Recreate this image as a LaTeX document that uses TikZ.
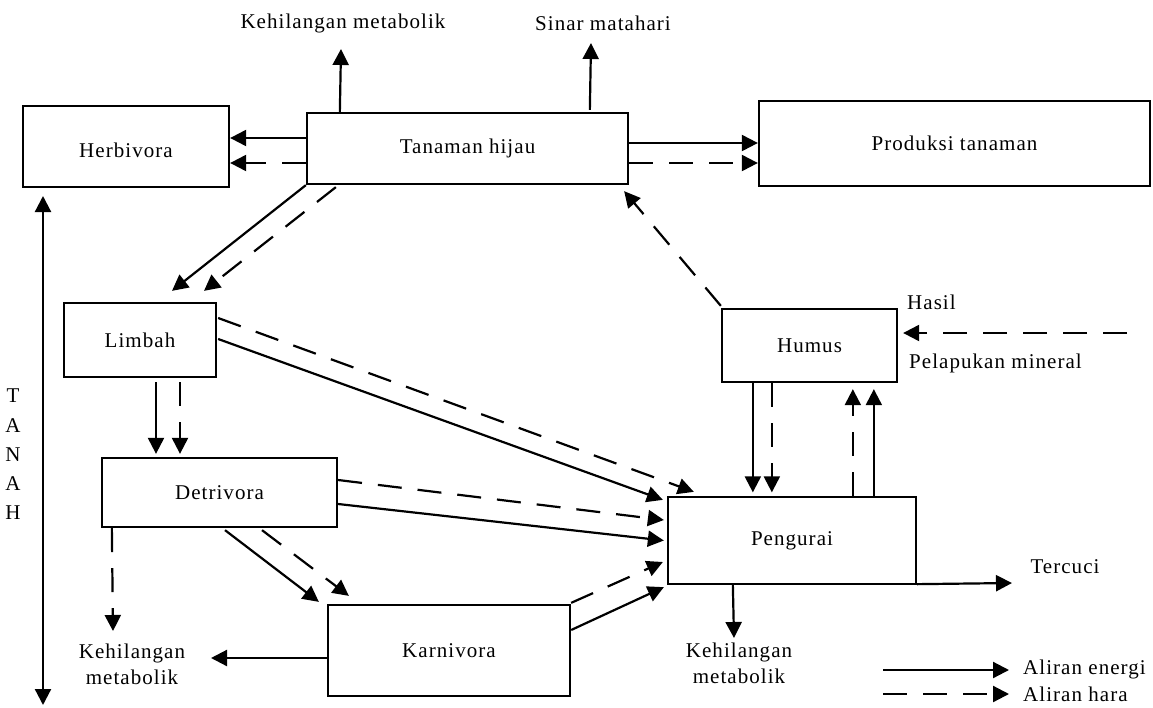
\documentclass[tikz,border=0pt]{standalone}
\usepackage{fontspec}
\setmainfont{Liberation Serif}[LetterSpace=5]
\usetikzlibrary{arrows.meta,calc}
\begin{document}
\begin{tikzpicture}[x=1pt,y=-1pt,
  box/.style={draw, line width=2.3pt, inner sep=0pt, font=\fontsize{21}{25}\selectfont},
  lbl/.style={inner sep=0pt, font=\fontsize{21}{26}\selectfont, align=center},
  en/.style={line width=2.2pt, -{Triangle[length=16pt,width=16pt]}},
  hr/.style={en, dash pattern=on 24pt off 16pt}]
\useasboundingbox (0,0) rectangle (1153,707);
\fill[white] (0,0) rectangle (1153,707);

% boxes
\node[box, minimum width=206pt, minimum height=81pt, text height=22pt] (herb) at (126,146.5) {Herbivora};
\node[box, minimum width=321pt, minimum height=71pt] (tan) at (467.5,148.5) {Tanaman hijau};
\node[box, minimum width=391pt, minimum height=85pt] (prod) at (954.5,143.5) {Produksi tanaman};
\node[box, minimum width=152pt, minimum height=74pt] (limb) at (140,340) {Limbah};
\node[box, minimum width=235pt, minimum height=69pt] (detr) at (219.5,492.5) {Detrivora};
\node[box, minimum width=242pt, minimum height=91pt] (karn) at (449,650.5) {Karnivora};
\node[box, minimum width=248pt, minimum height=87pt] (peng) at (792,540.5) {Pengurai};
\node[box, minimum width=175pt, minimum height=73pt] (hum) at (809.5,345.5) {Humus};

% labels
\node[lbl] (kmtop) at (343,23) {Kehilangan metabolik};
\node[lbl] (sinar) at (603,23) {Sinar matahari};
\node[lbl, anchor=west] (hasil) at (907,302) {Hasil};
\node[lbl, anchor=west] (pelap) at (909,363) {Pelapukan mineral};
\node[lbl] (tercuci) at (1065,567) {Tercuci};
\node[lbl] (kmbot) at (739,663) {Kehilangan\\metabolik};
\node[lbl] (kmleft) at (132,664) {Kehilangan\\metabolik};
\node[lbl, font=\fontsize{21}{29.3}\selectfont] (tanah) at (13,454.5) {T\\A\\N\\A\\H};
\node[lbl, anchor=west] (le) at (1023,669) {Aliran energi};
\node[lbl, anchor=west] (lh) at (1023,694) {Aliran hara};

% free ends
\coordinate (kmtopE) at (341,49);
\coordinate (sinarE) at (591,43);
\coordinate (hasilS) at (1127,333);
\coordinate (kmleftE) at (113,631);
\coordinate (kmleftW) at (211,658);
\coordinate (tercE) at (1012,583);
\coordinate (kmbotE) at (734,638);
\coordinate (soilT) at (43,196);
\coordinate (soilB) at (43,705);
\coordinate (legA) at (883,670);
\coordinate (legB) at (1009,670);
\coordinate (legC) at (883,694);
\coordinate (legD) at (1009,694);

% Tanaman hijau -> Herbivora
\coordinate (a1) at ($(tan.west)+(0,-10.5)$);
\coordinate (a2) at ($(tan.west)+(0,14.5)$);
\draw[en] (a1) -- (a1 -| herb.east);
\draw[hr] (a2) -- (a2 -| herb.east);
% Tanaman hijau -> Produksi tanaman
\coordinate (a3) at ($(tan.east)+(0,-5.5)$);
\coordinate (a4) at ($(tan.east)+(0,14.5)$);
\draw[en] (a3) -- (a3 -| prod.west);
\draw[hr] (a4) -- (a4 -| prod.west);
% Tanaman hijau -> top outputs
\draw[en] ($(tan.north west)+(34,0)$) -- (kmtopE);
\draw[en] ($(tan.north west)+(284,-2)$) -- (sinarE);
% Tanaman hijau -> Limbah
\draw[en] (tan.south west) -- ($(limb.north)+(32,-11)$);
\draw[hr] ($(tan.south west)+(30,2)$) -- ($(limb.north)+(64,-11)$);
% Humus -> Tanaman hijau
\draw[hr] ($(hum.north west)+(0,-2)$) -- ($(tan.south east)+(-5,6)$);
% mineral weathering -> Humus
\draw[hr] (hasilS) -- ($(hum.east)+(5,-12.5)$);
% Limbah -> Detrivora
\coordinate (l1) at ($(limb.south)+(16,4)$);
\coordinate (l2) at ($(limb.south)+(40,4)$);
\draw[en, shorten >=3pt] (l1) -- (l1 |- detr.north);
\draw[hr, shorten >=3pt] (l2) -- (l2 |- detr.north);
% Limbah -> Pengurai
\draw[en] ($(limb.east)+(1,-1)$) -- ($(peng.north west)+(-4,4)$);
\draw[hr] ($(limb.east)+(1,-22)$) -- ($(peng.north west)+(27,-4)$);
% Detrivora -> Pengurai
\draw[hr] ($(detr.east)+(0,-12.5)$) -- ($(peng.west)+(-3,-20.5)$);
\draw[en] ($(detr.east)+(0,11.5)$) -- ($(peng.west)+(-3,0)$);
% Detrivora -> Karnivora
\draw[en] ($(detr.south)+(5.5,2)$) -- ($(karn.north west)+(-8,-2)$);
\draw[hr] ($(detr.south)+(42.5,2)$) -- ($(karn.north west)+(22,-8)$);
% Detrivora -> metabolic loss
\draw[hr] ($(detr.south west)+(11,0)$) -- (kmleftE);
% Karnivora -> metabolic loss
\draw[en] ($(karn.west)+(0,7.5)$) -- (kmleftW);
% Karnivora -> Pengurai
\draw[hr] ($(karn.north east)+(0,-1)$) -- ($(peng.west)+(-4,21.5)$);
\draw[en] ($(karn.east)+(0,-20.5)$) -- ($(peng.south west)+(-3,2)$);
% Humus -> Pengurai
\coordinate (h1) at ($(hum.south west)+(32,0)$);
\coordinate (h2) at ($(hum.south west)+(51,0)$);
\draw[en, shorten >=3.5pt] (h1) -- (h1 |- peng.north);
\draw[hr, shorten >=3.5pt] (h2) -- (h2 |- peng.north);
% Pengurai -> Humus
\coordinate (p1) at ($(peng.north west)+(186,0)$);
\coordinate (p2) at ($(peng.north west)+(207,0)$);
\draw[hr, shorten >=6pt] (p1) -- (p1 |- hum.south);
\draw[en, shorten >=6pt] (p2) -- (p2 |- hum.south);
% Pengurai -> outputs
\draw[en] ($(peng.south east)+(0,-1)$) -- (tercE);
\draw[en] ($(peng.south west)+(66,0)$) -- (kmbotE);
% soil axis
\draw[line width=2.2pt, {Triangle[length=16pt,width=16pt]}-{Triangle[length=16pt,width=16pt]}] (soilT) -- (soilB);
% legend
\draw[en] (legA) -- (legB);
\draw[hr] (legC) -- (legD);
\end{tikzpicture}
\end{document}
